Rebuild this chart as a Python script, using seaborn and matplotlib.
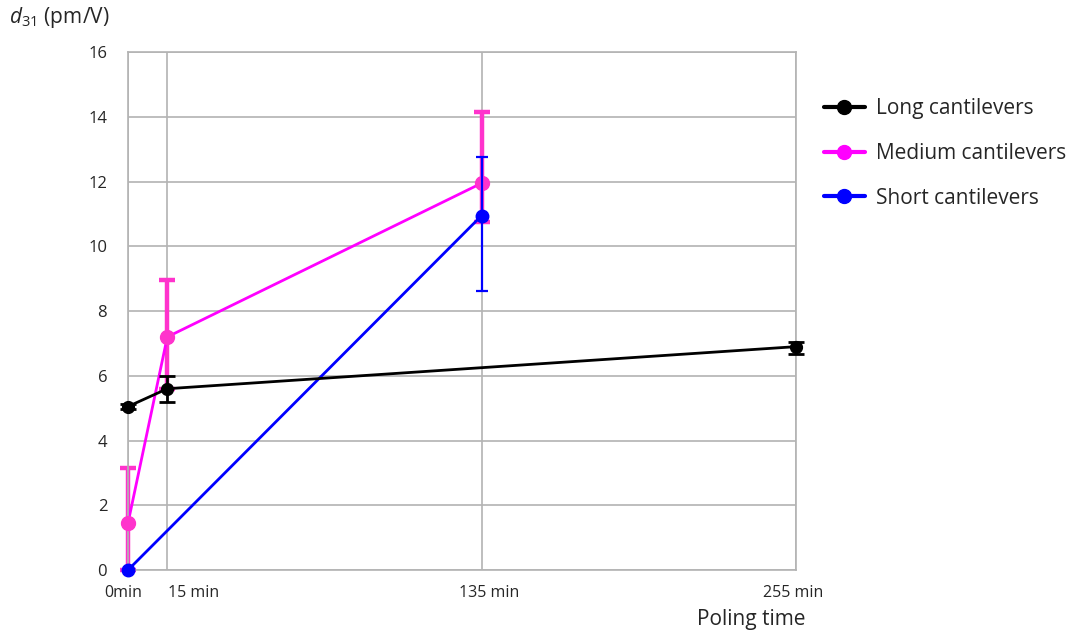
import numpy as np
import pandas as pd
import matplotlib
matplotlib.use("Agg")
import matplotlib.pyplot as plt
import seaborn as sns
from matplotlib.lines import Line2D

# data
long_t = [0, 15, 255]
long_d31 = [5.05, 5.6, 6.9]
long_err_lo = [0.08, 0.42, 0.23]
long_err_hi = [0.08, 0.38, 0.15]

medium_t = [0, 15, 135]
medium_d31 = [1.45, 7.2, 11.95]
medium_err_lo = [1.45, 1.6, 1.2]
medium_err_hi = [1.7, 1.75, 2.2]

short_t = [0, 135]
short_d31 = [0.0, 10.95]
short_err_lo = [0.0, 2.33]
short_err_hi = [0.0, 1.82]

tick_pos = [0, 15, 135, 255]
tick_labels = ["0min", "15 min", "135 min", "255 min"]

series = ["Long cantilevers", "Medium cantilevers", "Short cantilevers"]
line_colors = {"Long cantilevers": "black", "Medium cantilevers": "#ff00ff",
               "Short cantilevers": "#0000ff"}
err_colors = {"Long cantilevers": "black", "Medium cantilevers": "#ff33cc",
              "Short cantilevers": "#0000ff"}

df = pd.concat([
    pd.DataFrame({"t": long_t, "d31": long_d31, "lo": long_err_lo, "hi": long_err_hi,
                  "series": series[0]}),
    pd.DataFrame({"t": medium_t, "d31": medium_d31, "lo": medium_err_lo, "hi": medium_err_hi,
                  "series": series[1]}),
    pd.DataFrame({"t": short_t, "d31": short_d31, "lo": short_err_lo, "hi": short_err_hi,
                  "series": series[2]}),
])

sns.set_style("white")
plt.rcParams["font.family"] = ["Open Sans", "DejaVu Sans"]
plt.rcParams["mathtext.fontset"] = "custom"
plt.rcParams["mathtext.rm"] = "Open Sans"
plt.rcParams["mathtext.it"] = "Open Sans:italic"

fig = plt.figure(figsize=(10.73, 6.33), dpi=100)
ax = fig.add_axes([0.1193, 0.0995, 0.6226, 0.8183])

grid_c = "#b3b3b3"
# draw order: medium, short, long (long on top)
styles = {
    "Medium cantilevers": dict(lw=2.0, ms=10, elw=3.2, cap=6, z=2),
    "Short cantilevers": dict(lw=2.0, ms=9, elw=1.6, cap=4.5, z=3),
    "Long cantilevers": dict(lw=2.0, ms=8.5, elw=2.0, cap=5.5, z=4),
}
for name in ["Medium cantilevers", "Short cantilevers", "Long cantilevers"]:
    sub = df[df["series"] == name]
    st = styles[name]
    eb = ax.errorbar(sub["t"], sub["d31"], yerr=[sub["lo"], sub["hi"]], fmt="none",
                     ecolor=err_colors[name], elinewidth=st["elw"], capsize=st["cap"],
                     capthick=st["elw"], zorder=st["z"])
    for art in eb.lines[1] + eb.lines[2]:
        art.set_clip_on(False)
    sns.lineplot(data=sub, x="t", y="d31", color=line_colors[name], lw=st["lw"],
                 ax=ax, legend=False, zorder=st["z"] + 0.5, clip_on=False)
    ax.plot(sub["t"], sub["d31"], "o", color=err_colors[name], ms=st["ms"],
            zorder=st["z"] + 0.6, clip_on=False)

ax.set_xlim(0, 255)
ax.set_ylim(0, 16)
ax.set_yticks(range(0, 17, 2))
ax.tick_params(axis="y", labelsize=12, length=0, pad=15)
ax.set_xticks(tick_pos)
ax.set_xticklabels([])
ax.tick_params(axis="x", length=0)
ax.grid(True, color=grid_c, lw=1.2)
for sp in ax.spines.values():
    sp.set_color(grid_c)
    sp.set_linewidth(1.2)
ax.set_xlabel("")
ax.set_ylabel("")

# x tick labels placed like the original
label_x = [-2, 25, 138, 254]
for x, lab in zip(label_x, tick_labels):
    ax.text(x, -0.7, lab, ha="center", va="center", fontsize=11.5,
            transform=ax.transData)

fig.text(0.7, 0.022, "Poling time", fontsize=15, ha="center", va="center")
fig.text(0.008, 0.972, r"$\mathit{d}_{\mathit{31}}$ (pm/V)", fontsize=15,
         ha="left", va="center")

handles = [Line2D([0], [0], color=line_colors[s], lw=3, marker="o", ms=10,
                  markerfacecolor=line_colors[s], markeredgecolor=line_colors[s])
           for s in series]
fig.legend(handles, series, loc="upper left", bbox_to_anchor=(0.75, 0.875),
           frameon=False, fontsize=15, handlelength=2.0, labelspacing=1.15,
           handletextpad=0.5)

fig.savefig("out.png", dpi=100)
